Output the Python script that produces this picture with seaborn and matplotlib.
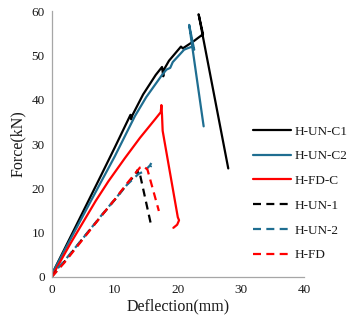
import matplotlib
matplotlib.use("Agg")
import matplotlib.pyplot as plt
import seaborn as sns
import pandas as pd

# Load-deflection curves of the beam specimens
hunc1_x = [0.0, 2.0, 5.0, 8.0, 10.0, 12.5, 12.6, 12.8, 14.5, 16.5, 17.5, 17.7, 17.8, 18.6, 20.5, 20.8, 22.5, 24.0, 23.3, 28.0]
hunc1_y = [0.5, 6.2, 14.8, 23.4, 29.2, 36.6, 35.6, 36.5, 41.2, 45.6, 47.4, 45.3, 46.8, 48.8, 52.0, 51.6, 53.2, 54.8, 59.3, 24.5]

hunc2_x = [0.0, 2.0, 5.0, 8.0, 10.0, 13.2, 15.0, 17.5, 18.2, 18.8, 19.2, 21.0, 21.5, 22.3, 22.6, 21.8, 24.1]
hunc2_y = [0.5, 5.9, 13.9, 21.9, 27.2, 36.3, 40.6, 45.6, 46.8, 47.2, 48.5, 51.3, 51.6, 52.0, 51.3, 56.9, 34.0]

hfdc_x = [0.0, 3.0, 5.0, 7.0, 9.0, 11.6, 14.0, 16.4, 17.3, 17.4, 17.5, 17.6, 20.0, 20.2, 19.9, 19.3]
hfdc_y = [0.0, 7.6, 12.4, 17.2, 21.6, 26.8, 31.4, 35.6, 37.2, 38.8, 36.5, 33.0, 13.5, 12.8, 11.8, 11.1]

hun1_x = [0.0, 2.0, 5.0, 8.0, 10.0, 12.0, 13.3, 13.6, 13.8, 14.0, 15.8]
hun1_y = [0.0, 3.4, 8.8, 14.0, 17.4, 21.0, 23.2, 24.1, 22.8, 23.2, 11.5]

hun2_x = [1.0, 2.0, 5.0, 8.0, 10.0, 12.0, 13.8, 14.6, 15.2, 15.6, 15.9, 15.7]
hun2_y = [2.0, 3.6, 8.8, 14.1, 17.5, 20.9, 23.3, 23.8, 24.6, 25.2, 26.0, 24.8]

hfd_x = [0.0, 2.0, 5.0, 8.0, 10.0, 12.0, 13.2, 14.0, 14.6, 15.2, 17.0]
hfd_y = [0.0, 3.2, 8.6, 14.0, 17.5, 21.2, 23.3, 24.7, 25.0, 24.2, 14.9]

labels = ["H-UN-C1", "H-UN-C2", "H-FD-C", "H-UN-1", "H-UN-2", "H-FD"]
xs = [hunc1_x, hunc2_x, hfdc_x, hun1_x, hun2_x, hfd_x]
ys = [hunc1_y, hunc2_y, hfdc_y, hun1_y, hun2_y, hfd_y]

colors = ["#000000", "#1f6e91", "#ff0000", "#000000", "#1f6e91", "#ff0000"]
solid = [True, True, True, False, False, False]

sns.set_theme(style="white")
plt.rcParams["font.family"] = ["Liberation Serif", "DejaVu Serif"]

fig = plt.figure(figsize=(3.61, 3.28), dpi=100)
ax = fig.add_axes([0.143, 0.1555, 0.699, 0.8105])

for lab, x, y, c, s in zip(labels, xs, ys, colors, solid):
    df = pd.DataFrame({"x": x, "y": y})
    sns.lineplot(data=df, x="x", y="y", sort=False, estimator=None, ax=ax,
                 color=c, linewidth=1.6, label=lab,
                 linestyle="-" if s else (0, (3.6, 2.4)))

ax.set_xlim(0, 40)
ax.set_ylim(0, 60)
ax.set_xticks([0, 10, 20, 30, 40])
ax.set_yticks([0, 10, 20, 30, 40, 50, 60])
ax.set_xlabel("Deflection(mm)", fontsize=11.5, labelpad=2, color="#1a1a1a")
ax.set_ylabel("Force(kN)", fontsize=11.5, labelpad=4, color="#1a1a1a")
ax.tick_params(axis="both", labelsize=9.5, length=3, width=0.8,
               direction="out", pad=2, colors="#a6a6a6", labelcolor="#1a1a1a")
for side in ["top", "right"]:
    ax.spines[side].set_visible(False)
for side in ["left", "bottom"]:
    ax.spines[side].set_color("#a6a6a6")
    ax.spines[side].set_linewidth(0.9)

leg = ax.legend(loc="upper left", bbox_to_anchor=(0.70, 0.618), bbox_transform=fig.transFigure,
                frameon=False, fontsize=9.5, handlelength=2.9, handletextpad=0.3,
                labelspacing=0.95, borderpad=0, borderaxespad=0)
for t in leg.get_texts():
    t.set_color("#1a1a1a")

fig.savefig("out.png", dpi=100)
